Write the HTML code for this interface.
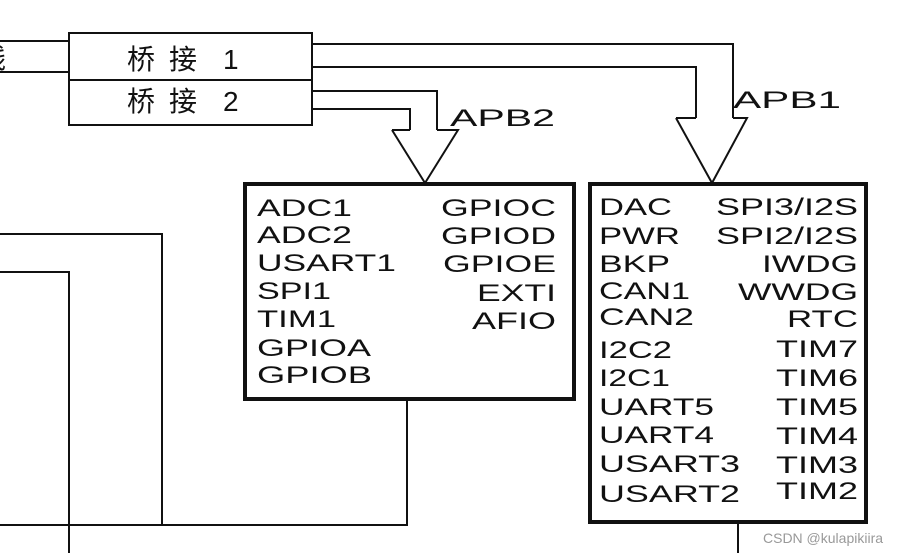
<!DOCTYPE html>
<html><head><meta charset="utf-8"><style>html,body{margin:0;padding:0;background:#fff}svg{display:block}</style></head><body>
<svg width="911" height="553" viewBox="0 0 911 553" xmlns="http://www.w3.org/2000/svg" font-family="Liberation Sans, Arial, sans-serif" fill="#111">
<g fill="none" stroke="#111" stroke-width="2">
<path d="M0 41H69M0 72H69"/>
<rect x="69" y="33" width="243" height="92"/>
<path d="M69 80H312"/>
<path d="M312 44H733V118M312 67H696V118"/>
<path d="M312 91H437V130M312 109H410V130"/>
<path d="M676 118H696M733 118H747L712 183L676 118"/>
<path d="M392 130H410M437 130H458L425 183L392 130"/>
<path d="M0 234H162V525M0 272H69V553M0 525H407V400"/>
<path d="M738 524V553"/>
</g>
<rect x="245" y="184" width="329" height="215" fill="none" stroke="#111" stroke-width="4"/>
<rect x="590" y="184" width="276" height="338" fill="none" stroke="#111" stroke-width="4"/>
<g font-family="Liberation Sans, Noto Sans CJK SC, sans-serif" font-size="28">
<text x="-22" y="68">线</text>
<text x="127" y="69">桥</text><text x="169" y="69">接</text><text x="223" y="69">1</text>
<text x="127" y="111">桥</text><text x="169" y="111">接</text><text x="223" y="111">2</text>
</g>
<g font-size="24">
<text x="450" y="126" textLength="105" lengthAdjust="spacingAndGlyphs">APB2</text>
<text x="733" y="108" textLength="108" lengthAdjust="spacingAndGlyphs">APB1</text>
<text x="257" y="216" textLength="95" lengthAdjust="spacingAndGlyphs">ADC1</text>
<text x="257" y="243" textLength="95" lengthAdjust="spacingAndGlyphs">ADC2</text>
<text x="257" y="271" textLength="139" lengthAdjust="spacingAndGlyphs">USART1</text>
<text x="257" y="299" textLength="74" lengthAdjust="spacingAndGlyphs">SPI1</text>
<text x="257" y="327" textLength="79" lengthAdjust="spacingAndGlyphs">TIM1</text>
<text x="257" y="356" textLength="114" lengthAdjust="spacingAndGlyphs">GPIOA</text>
<text x="257" y="383" textLength="115" lengthAdjust="spacingAndGlyphs">GPIOB</text>
<text x="441" y="216" textLength="115" lengthAdjust="spacingAndGlyphs">GPIOC</text>
<text x="441" y="244" textLength="115" lengthAdjust="spacingAndGlyphs">GPIOD</text>
<text x="443" y="272" textLength="113" lengthAdjust="spacingAndGlyphs">GPIOE</text>
<text x="477" y="301" textLength="79" lengthAdjust="spacingAndGlyphs">EXTI</text>
<text x="472" y="329" textLength="84" lengthAdjust="spacingAndGlyphs">AFIO</text>
<text x="599" y="215" textLength="73" lengthAdjust="spacingAndGlyphs">DAC</text>
<text x="599" y="244" textLength="81" lengthAdjust="spacingAndGlyphs">PWR</text>
<text x="599" y="272" textLength="71" lengthAdjust="spacingAndGlyphs">BKP</text>
<text x="599" y="299" textLength="91" lengthAdjust="spacingAndGlyphs">CAN1</text>
<text x="599" y="325" textLength="95" lengthAdjust="spacingAndGlyphs">CAN2</text>
<text x="599" y="358" textLength="73" lengthAdjust="spacingAndGlyphs">I2C2</text>
<text x="599" y="386" textLength="71" lengthAdjust="spacingAndGlyphs">I2C1</text>
<text x="599" y="415" textLength="115" lengthAdjust="spacingAndGlyphs">UART5</text>
<text x="599" y="443" textLength="115" lengthAdjust="spacingAndGlyphs">UART4</text>
<text x="599" y="472" textLength="141" lengthAdjust="spacingAndGlyphs">USART3</text>
<text x="599" y="502" textLength="141" lengthAdjust="spacingAndGlyphs">USART2</text>
<text x="716" y="215" textLength="142" lengthAdjust="spacingAndGlyphs">SPI3/I2S</text>
<text x="716" y="244" textLength="142" lengthAdjust="spacingAndGlyphs">SPI2/I2S</text>
<text x="762" y="272" textLength="96" lengthAdjust="spacingAndGlyphs">IWDG</text>
<text x="738" y="300" textLength="120" lengthAdjust="spacingAndGlyphs">WWDG</text>
<text x="787" y="327" textLength="71" lengthAdjust="spacingAndGlyphs">RTC</text>
<text x="776" y="357" textLength="82" lengthAdjust="spacingAndGlyphs">TIM7</text>
<text x="776" y="386" textLength="82" lengthAdjust="spacingAndGlyphs">TIM6</text>
<text x="776" y="415" textLength="82" lengthAdjust="spacingAndGlyphs">TIM5</text>
<text x="776" y="444" textLength="82" lengthAdjust="spacingAndGlyphs">TIM4</text>
<text x="776" y="473" textLength="82" lengthAdjust="spacingAndGlyphs">TIM3</text>
<text x="776" y="499" textLength="82" lengthAdjust="spacingAndGlyphs">TIM2</text>
</g>
<text x="763" y="543" font-size="14" fill="#999">CSDN @kulapikiira</text>
</svg>
</body></html>
